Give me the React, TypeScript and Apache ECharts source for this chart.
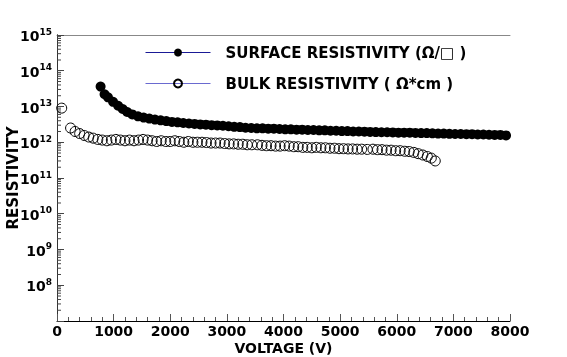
import React, { useEffect, useRef } from "react";
import * as echarts from "echarts";

const xTickLabels = ["0", "1000", "2000", "3000", "4000", "5000", "6000", "7000", "8000"];
const yDecades = [7, 8, 9, 10, 11, 12, 13, 14, 15];
const minorMultipliers = [2, 3, 4, 5, 6, 7, 8, 9];

const surfaceVoltage = [
  770, 840, 900, 990, 1080, 1160, 1240, 1330, 1430, 1530, 1630, 1730, 1830, 1930, 2030, 2130,
  2230, 2330, 2430, 2530, 2630, 2730, 2830, 2930, 3030, 3130, 3230, 3330, 3430, 3530, 3630,
  3730, 3830, 3930, 4030, 4130, 4230, 4330, 4430, 4530, 4630, 4730, 4830, 4930, 5030, 5130,
  5230, 5330, 5430, 5530, 5630, 5730, 5830, 5930, 6030, 6130, 6230, 6330, 6430, 6530, 6630,
  6730, 6830, 6930, 7030, 7130, 7230, 7330, 7430, 7530, 7630, 7730, 7830, 7930,
];
const surfaceResistivity = [
  3.6e13, 2.2e13, 1.8e13, 1.35e13, 1.05e13, 8.5e12, 7.0e12, 6.0e12, 5.3e12, 4.9e12, 4.6e12,
  4.3e12, 4.1e12, 3.9e12, 3.7e12, 3.6e12, 3.45e12, 3.35e12, 3.25e12, 3.15e12, 3.1e12, 3.0e12,
  2.95e12, 2.9e12, 2.8e12, 2.7e12, 2.65e12, 2.55e12, 2.5e12, 2.45e12, 2.45e12, 2.4e12, 2.4e12,
  2.35e12, 2.3e12, 2.3e12, 2.25e12, 2.25e12, 2.2e12, 2.2e12, 2.15e12, 2.15e12, 2.1e12, 2.1e12,
  2.05e12, 2.05e12, 2.0e12, 2.0e12, 1.98e12, 1.95e12, 1.92e12, 1.9e12, 1.9e12, 1.88e12,
  1.85e12, 1.85e12, 1.85e12, 1.82e12, 1.8e12, 1.8e12, 1.78e12, 1.75e12, 1.75e12, 1.72e12,
  1.7e12, 1.7e12, 1.68e12, 1.68e12, 1.65e12, 1.65e12, 1.62e12, 1.6e12, 1.6e12, 1.55e12,
];

const bulkVoltage = [
  83, 240, 320, 400, 480, 560, 640, 720, 800, 880, 960, 1040, 1120, 1200, 1280, 1360, 1440,
  1520, 1600, 1680, 1760, 1840, 1920, 2000, 2080, 2160, 2240, 2320, 2400, 2480, 2560, 2640,
  2720, 2800, 2880, 2960, 3040, 3120, 3200, 3280, 3360, 3440, 3540, 3620, 3700, 3780, 3860,
  3940, 4020, 4100, 4180, 4260, 4340, 4420, 4500, 4580, 4660, 4740, 4820, 4900, 4980, 5060,
  5140, 5220, 5300, 5380, 5480, 5580, 5660, 5740, 5820, 5900, 5980, 6060, 6140, 6220, 6300,
  6380, 6460, 6540, 6610, 6680,
];
const bulkResistivity = [
  9.0e12, 2.5e12, 2.0e12, 1.75e12, 1.55e12, 1.4e12, 1.3e12, 1.2e12, 1.15e12, 1.1e12, 1.15e12,
  1.2e12, 1.15e12, 1.1e12, 1.15e12, 1.1e12, 1.15e12, 1.2e12, 1.15e12, 1.1e12, 1.05e12, 1.1e12,
  1.05e12, 1.05e12, 1.1e12, 1.05e12, 1.0e12, 1.05e12, 1.0e12, 1.0e12, 1.0e12, 0.98e12, 0.95e12,
  0.95e12, 0.95e12, 0.92e12, 0.9e12, 0.9e12, 0.88e12, 0.88e12, 0.85e12, 0.85e12, 0.85e12,
  0.82e12, 0.8e12, 0.8e12, 0.78e12, 0.78e12, 0.8e12, 0.78e12, 0.75e12, 0.75e12, 0.72e12,
  0.72e12, 0.7e12, 0.72e12, 0.7e12, 0.7e12, 0.68e12, 0.68e12, 0.66e12, 0.66e12, 0.65e12,
  0.65e12, 0.64e12, 0.64e12, 0.63e12, 0.64e12, 0.62e12, 0.62e12, 0.6e12, 0.6e12, 0.58e12,
  0.58e12, 0.56e12, 0.55e12, 0.52e12, 0.48e12, 0.44e12, 0.4e12, 0.36e12, 0.3e12,
];

const surfaceName = "SURFACE RESISTIVITY (Ω/□ )";
const bulkName = "BULK RESISTIVITY ( Ω*cm )";

const FONT = "DejaVu Sans";

export default function App() {
  const ref = useRef<HTMLDivElement>(null);
  useEffect(() => {
    if (!ref.current) return;
    const chart = echarts.init(ref.current, null, { renderer: "svg" });
    const minorTicks: number[][] = [];
    yDecades.slice(0, -1).forEach((d) => {
      minorMultipliers.forEach((m) => minorTicks.push([0, m * Math.pow(10, d)]));
    });
    const surfaceData = surfaceVoltage.map((v, i) => [v, surfaceResistivity[i]]);
    const bulkData = bulkVoltage.map((v, i) => [v, bulkResistivity[i]]);
    chart.setOption({
      animation: false,
      grid: {
        left: 57,
        right: 57,
        top: 35,
        bottom: 36,
        containLabel: false,
        outerBoundsMode: "none",
      },
      legend: {
        orient: "vertical",
        left: 145,
        top: 45,
        padding: 0,
        itemWidth: 65,
        itemHeight: 10,
        itemGap: 16,
        textStyle: {
          fontFamily: FONT,
          fontWeight: "bold",
          fontSize: 15,
          color: "#000",
          padding: [0, 0, 0, 10],
        },
        data: [
          { name: surfaceName, lineStyle: { color: "#1a1a96", width: 1, opacity: 1 } },
          { name: bulkName, lineStyle: { color: "#6a6ad0", width: 1, opacity: 1 } },
        ],
      },
      xAxis: [
        {
          type: "value",
          min: 0,
          max: 8000,
          interval: 1000,
          axisLine: { show: true, lineStyle: { color: "#000", width: 1 } },
          axisTick: { show: true, inside: true, length: 7, lineStyle: { color: "#555" } },
          minorTick: { show: true, splitNumber: 5, length: 4, lineStyle: { color: "#555" } },
          splitLine: { show: false },
          axisLabel: {
            margin: 3,
            fontFamily: FONT,
            fontWeight: "bold",
            fontSize: 14,
            color: "#000",
            formatter: (v: number) => xTickLabels[Math.round(v / 1000)] ?? "",
          },
          name: "VOLTAGE (V)",
          nameLocation: "middle",
          nameGap: 20,
          nameMoveOverlap: false,
          nameTextStyle: { fontFamily: FONT, fontWeight: "bold", fontSize: 14, color: "#000" },
        },
        {
          type: "value",
          position: "top",
          min: 0,
          max: 8000,
          axisLine: { show: true, lineStyle: { color: "#888", width: 1 } },
          axisTick: { show: false },
          axisLabel: { show: false },
          splitLine: { show: false },
        },
      ],
      yAxis: [
        {
          type: "log",
          logBase: 10,
          min: 1e7,
          max: 1e15,
          axisLine: { show: true, lineStyle: { color: "#000", width: 1 } },
          axisTick: { show: true, inside: true, length: 7, lineStyle: { color: "#444" } },
          splitLine: { show: false },
          axisLabel: {
            margin: 5,
            fontFamily: FONT,
            color: "#000",
            formatter: (v: number) => {
              const e = Math.round(Math.log10(v));
              if (e === yDecades[0]) return "";
              return "{b|10}{s|" + e + "}";
            },
            rich: {
              b: { fontFamily: FONT, fontWeight: "bold", fontSize: 14, color: "#000", verticalAlign: "bottom" },
              s: {
                fontFamily: FONT,
                fontWeight: "bold",
                fontSize: 9,
                color: "#000",
                verticalAlign: "bottom",
                padding: [0, 0, 7, 0],
              },
            },
          },
          name: "RESISTIVITY",
          nameLocation: "middle",
          nameGap: 37,
          nameMoveOverlap: false,
          nameTextStyle: { fontFamily: FONT, fontWeight: "bold", fontSize: 15, color: "#000" },
        },
        {
          type: "log",
          logBase: 10,
          min: 1e7,
          max: 1e15,
          position: "right",
          axisLine: { show: true, lineStyle: { color: "#333", width: 1 } },
          axisTick: { show: false },
          axisLabel: { show: false },
          splitLine: { show: false },
        },
      ],
      series: [
        {
          name: surfaceName,
          type: "line",
          data: surfaceData,
          symbol: "circle",
          symbolSize: 10,
          showAllSymbol: true,
          itemStyle: { color: "#000" },
          lineStyle: { opacity: 0, width: 0 },
          emphasis: { disabled: true },
          z: 3,
        },
        {
          name: bulkName,
          type: "line",
          data: bulkData,
          symbol: "circle",
          symbolSize: 10,
          showAllSymbol: true,
          itemStyle: { color: "rgba(255,255,255,0)", borderColor: "#000", borderWidth: 1 },
          lineStyle: { opacity: 0, width: 0 },
          emphasis: { disabled: true },
          z: 2,
        },
        {
          name: "minorTicks",
          type: "custom",
          data: minorTicks,
          silent: true,
          renderItem: (_params: any, api: any) => {
            const p = api.coord([0, api.value(1)]);
            return {
              type: "line",
              shape: { x1: p[0], y1: p[1], x2: p[0] + 4, y2: p[1] },
              style: { stroke: "#444", lineWidth: 1 },
            };
          },
        },
      ],
    });
    return () => chart.dispose();
  }, []);
  return (
    <div
      ref={ref}
      style={{ position: "fixed", left: 0, top: 0, width: 567, height: 357 }}
    />
  );
}
